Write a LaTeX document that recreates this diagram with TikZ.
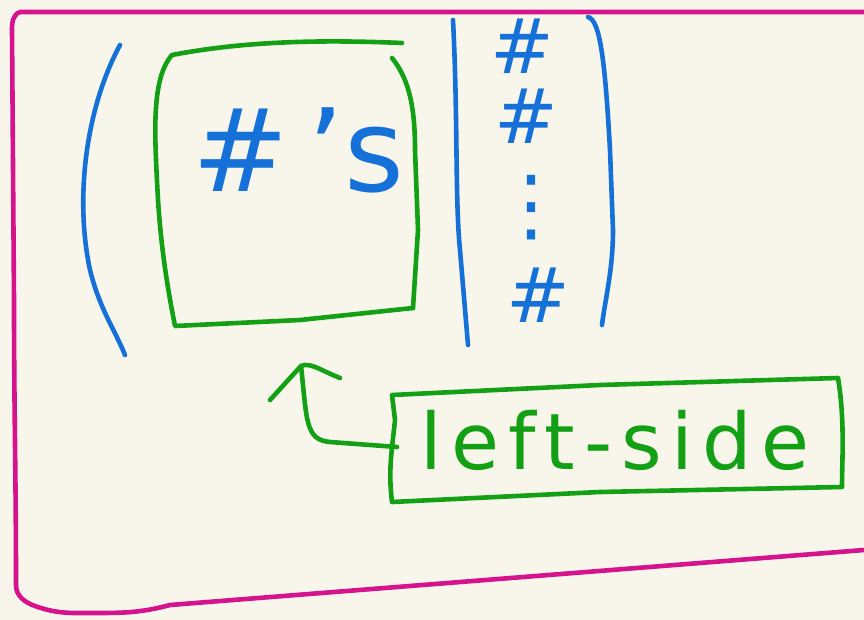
\documentclass[tikz,border=0pt]{standalone}
\usepackage{fontspec}
\setmainfont{DejaVu Sans}
\newfontfamily\handfont[LetterSpace=12]{DejaVu Sans}
\begin{document}
\begin{tikzpicture}[x=1pt,y=-1pt,
  ink/.style={line width=4.6pt,line cap=round,line join=round},
  blueink/.style={ink,draw=penblue},
  greenink/.style={ink,draw=pengreen},
  bluetext/.style={text=penblue,inner sep=0pt},
  hashtext/.style={bluetext,font=\fontsize{76}{76}\selectfont,text height=55pt,text depth=0pt},
  greentext/.style={text=pengreen,inner sep=0pt}]
\definecolor{paper}{HTML}{F8F6EA}
\definecolor{penblue}{HTML}{1570D8}
\definecolor{pengreen}{HTML}{13A014}
\definecolor{penmag}{HTML}{D4138C}
\fill[paper] (0,0) rectangle (864,620);
\useasboundingbox (0,0) rectangle (864,620);
% magenta frame
\draw[ink,draw=penmag] (880,12) -- (300,12) -- (20,12) to[out=200,in=90] (12,30)
  -- (14,300) to[out=-90,in=90] (16,585) to[out=-90,in=160] (35,606)
  to[out=-20,in=180] (95,613) to[out=0,in=195] (170,605) -- (864,550) -- (880,548);
% left parenthesis
\draw[blueink] (120,45) .. controls (85,110) and (75,200) .. (90,270) .. controls (100,310) and (115,330) .. (125,355);
% green box with #'s
\draw[greenink] (402,43) .. controls (330,40) and (250,40) .. (172,55) .. controls (150,80) and (155,140) .. (158,200) .. controls (162,260) and (170,300) .. (175,326) -- (300,320) -- (413,308);
\draw[greenink] (392,58) .. controls (410,80) and (415,110) .. (415,150) -- (418,230) -- (413,308);
\node[bluetext,font=\fontsize{115}{115}\selectfont] (hs) at (298,150) {\#\,'s};
% vertical bar
\draw[blueink] (453,20) .. controls (458,120) and (455,200) .. (460,250) -- (468,345);
% column
\node[hashtext] (h1) at (522,46) {\#};
\node[hashtext] (h2) at (526,116) {\#};
\node[bluetext,font=\fontsize{80}{80}\selectfont,text height=56pt,text depth=0pt] (dots) at (531,205) {⋮};
\node[hashtext] (h3) at (538,295) {\#};
% right parenthesis
\draw[blueink] (588,17) .. controls (600,20) and (605,60) .. (610,150) -- (613,230) .. controls (613,270) and (605,300) .. (602,325);
% left-side box
\node[greentext,font=\handfont\fontsize{78}{78}\selectfont] (ls) at (615,440) {left-side};
\draw[greenink] (392,395) -- (600,385) -- (838,378) .. controls (845,420) and (842,460) .. (842,487) -- (600,492) -- (392,502) .. controls (388,470) and (392,450) .. (395,420) -- cycle;
% arrow
\coordinate (tail) at (397,447);
\coordinate (tip) at (301,366);
\draw[greenink] (tail) -- (330,442) .. controls (305,440) and (307,420) .. (tip);
\draw[greenink] (270,400) -- (tip) .. controls (310,362) and (320,370) .. (340,378);
\end{tikzpicture}
\end{document}
